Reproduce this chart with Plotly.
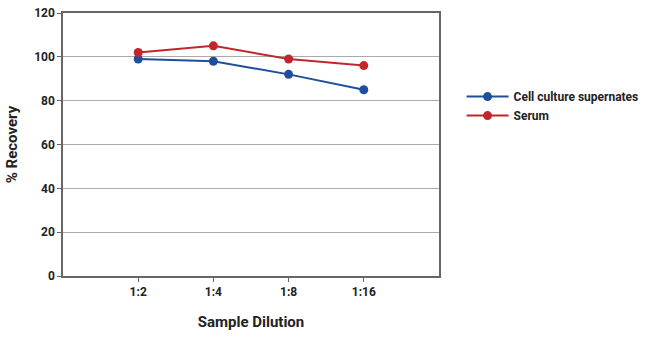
import plotly.graph_objects as go

categories = ["1:2", "1:4", "1:8", "1:16"]
cell_culture = [99, 98, 92, 85]
serum = [102, 105, 99, 96]
y_ticks = [0, 20, 40, 60, 80, 100, 120]

FONT = "Roboto, sans-serif"
xpos = list(range(1, len(categories) + 1))

fig = go.Figure()
fig.add_trace(go.Scatter(x=xpos, y=cell_culture, name="Cell culture supernates",
                         mode="lines+markers", line=dict(color="#1f4e9a", width=2),
                         marker=dict(color="#1f4e9a", size=9)))
fig.add_trace(go.Scatter(x=xpos, y=serum, name="Serum",
                         mode="lines+markers", line=dict(color="#c0272d", width=2),
                         marker=dict(color="#c0272d", size=9)))

fig.update_layout(
    width=650, height=341,
    margin=dict(l=63, r=211, t=13, b=65, autoexpand=False),
    paper_bgcolor="white", plot_bgcolor="white",
    font=dict(family=FONT, size=12, color="#222", weight="bold"),
    showlegend=True,
    legend=dict(x=1.06, y=0.646, xanchor="left", yanchor="middle",
                font=dict(family=FONT, size=12, color="#222", weight="bold"),
                itemwidth=42,
                bgcolor="rgba(0,0,0,0)", tracegroupgap=0),
    xaxis=dict(range=[0, 5], tickvals=xpos, ticktext=categories,
               showgrid=False, zeroline=False,
               showline=True, linecolor="#666", linewidth=1.5, mirror=True,
               ticks="outside", ticklen=4, tickcolor="#666",
               tickfont=dict(family=FONT, size=12, color="#222", weight="bold"),
               title=dict(text="Sample Dilution", font=dict(family=FONT, size=15, color="#222", weight="bold"), standoff=18)),
    yaxis=dict(range=[0, 120], tickvals=y_ticks,
               showgrid=True, gridcolor="#aaa", gridwidth=1, zeroline=False,
               showline=True, linecolor="#666", linewidth=1.5, mirror=True,
               ticks="outside", ticklen=4, tickcolor="#666",
               tickfont=dict(family=FONT, size=12, color="#222", weight="bold"),
               title=dict(text="% Recovery", font=dict(family=FONT, size=15, color="#222", weight="bold"), standoff=13)),
)

fig.write_html("out.html")
